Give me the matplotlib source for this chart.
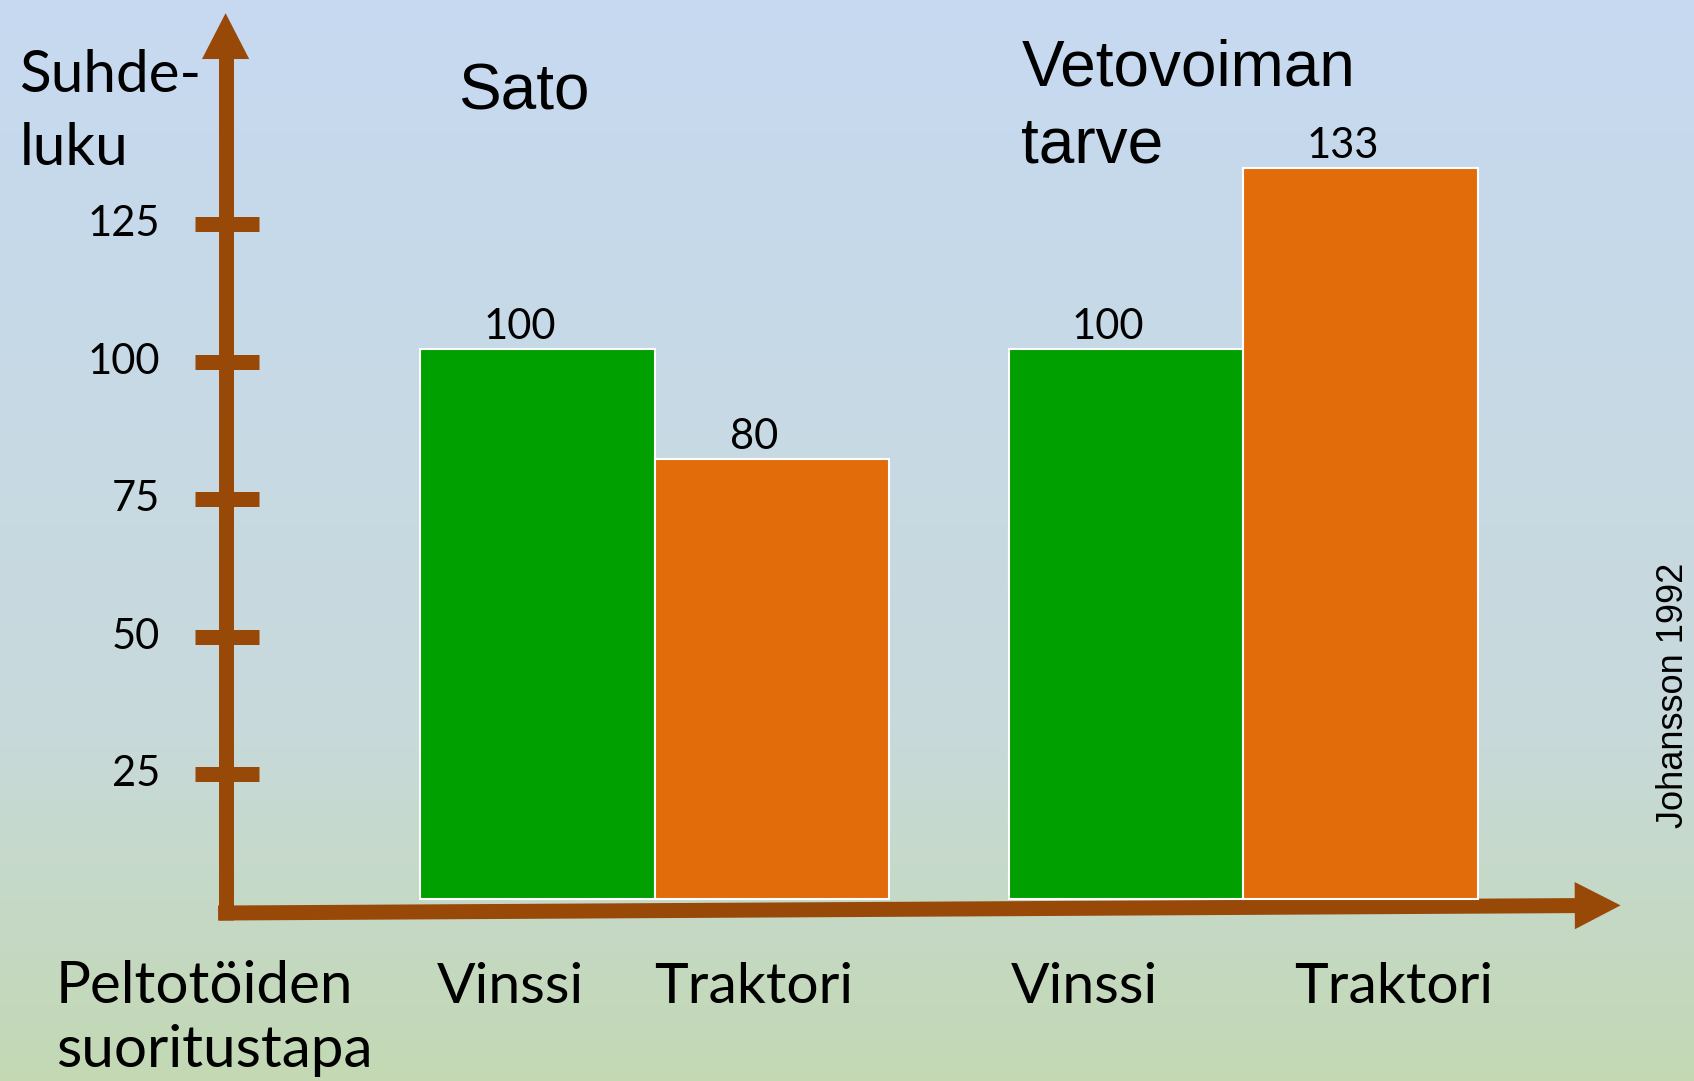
import matplotlib
matplotlib.use("Agg")
import matplotlib.pyplot as plt
import numpy as np
from matplotlib.colors import LinearSegmentedColormap

# data
groups = ["Sato", "Vetovoiman\ntarve"]
methods = ["Vinssi", "Traktori"]
values = [[100, 80], [100, 133]]
yticks = [25, 50, 75, 100, 125]

BROWN = "#984807"
BAR_COLORS = ["#00a000", "#e36c0a"]
CALIBRI = ["Lato", "DejaVu Sans"]
ARIAL = ["Liberation Sans", "DejaVu Sans"]

fig = plt.figure(figsize=(16.94, 10.81), dpi=100)

# background gradient (slide style)
bg = fig.add_axes([0, 0, 1, 1])
bg.axis("off")
cmap = LinearSegmentedColormap.from_list("bg", ["#c6d9f1", "#c7d9e6", "#c8dadb", "#c3d8b3"])
bg.imshow(np.linspace(0, 1, 256).reshape(-1, 1), aspect="auto", cmap=cmap,
          extent=[0, 1, 0, 1], origin="upper")

ax = fig.add_axes([0, 0, 1, 1])
ax.set_xlim(-2.792, 4.432)
ax.set_ylim(-33.1, 163.5)
ax.axis("off")
ax.patch.set_alpha(0)

group_x = [0, 2.51]
offsets = [-0.5, 0.5]

# bars
for gx, vals in zip(group_x, values):
    for off, v, c in zip(offsets, vals, BAR_COLORS):
        ax.bar(gx + off, v, width=1.0, bottom=0, color=c, edgecolor="white", linewidth=1.5, zorder=3)
        ax.annotate(str(v), xy=(gx + off, v), xytext=(-13, 2), textcoords="offset points",
                    ha="center", va="bottom", fontsize=30, family=CALIBRI, zorder=4)

# hand drawn style axes
axis0 = -2.3
yax = -1.83
lw = 10.8
ax.plot([yax, yax], [-3.9, 153], lw=lw, color=BROWN, solid_capstyle="butt", zorder=2)
ax.annotate("", xy=(yax, 161.1), xytext=(yax, 150),
            arrowprops=dict(arrowstyle="-|>,head_length=3.3,head_width=1.7", mutation_scale=10,
                            lw=0, color=BROWN, shrinkA=0, shrinkB=0), zorder=2)
ax.plot([yax - 0.032, 3.93], [-2.55, -1.2], lw=lw, color=BROWN, solid_capstyle="butt", zorder=2)
ax.annotate("", xy=(4.119, -1.16), xytext=(3.9, -1.21),
            arrowprops=dict(arrowstyle="-|>,head_length=3.3,head_width=1.7", mutation_scale=10,
                            lw=0, color=BROWN, shrinkA=0, shrinkB=0), zorder=2)

for t in yticks:
    ax.plot([-1.962, -1.687], [axis0 + t] * 2, lw=lw, color=BROWN, solid_capstyle="butt", zorder=2)
    ax.text(-2.11, axis0 + t, str(t), ha="right", va="center", fontsize=30, family=CALIBRI)

# category labels under the bars
label_x = [-0.617, 0.423, 1.831, 3.153]
for lx, name in zip(label_x, methods * 2):
    ax.text(lx, -18.9, name, ha="center", va="baseline", fontsize=41, family=CALIBRI)

# titles and axis texts
fig.text(0.0115, 0.915, "Suhde-", ha="left", va="baseline", fontsize=42, family=CALIBRI)
fig.text(0.0115, 0.847, "luku", ha="left", va="baseline", fontsize=42, family=CALIBRI)
fig.text(0.309, 0.899, groups[0], ha="center", va="baseline", fontsize=46, family=ARIAL)
g2 = groups[1].split("\n")
fig.text(0.603, 0.921, g2[0], ha="left", va="baseline", fontsize=46, family=ARIAL)
fig.text(0.603, 0.850, g2[1], ha="left", va="baseline", fontsize=46, family=ARIAL)
fig.text(0.033, 0.072, "Peltotöiden", ha="left", va="baseline", fontsize=42, family=CALIBRI)
fig.text(0.033, 0.013, "suoritustapa", ha="left", va="baseline", fontsize=42, family=CALIBRI)
fig.text(0.988, 0.357, "Johansson 1992", rotation=90, ha="center", va="center", fontsize=26, family=ARIAL)

fig.savefig("out.png", dpi=100)
